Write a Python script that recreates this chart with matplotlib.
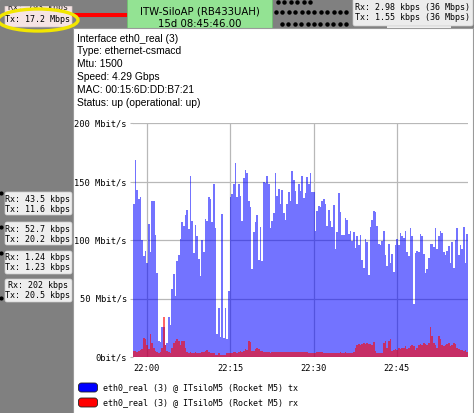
import numpy as np
import matplotlib
matplotlib.use('Agg')
import matplotlib.pyplot as plt
from matplotlib.patches import Rectangle, FancyBboxPatch, Ellipse

# --- data: eth0_real (3) traffic, one sample every 18 s from 21:57:30 ---
START_MIN = -2.5      # minutes relative to 22:00
STEP_MIN = 0.3
tx_mbit = [
    131, 168, 143, 135, 137, 100, 86, 91, 80, 114,
    90, 133, 133, 104, 72, 14, 13, 26, 26, 10,
    12, 34, 27, 58, 71, 52, 82, 87, 101, 115,
    112, 121, 126, 109, 155, 116, 89, 113, 103, 84,
    69, 100, 90, 118, 116, 137, 135, 115, 148, 110,
    20, 42, 17, 122, 16, 42, 15, 56, 137, 139,
    148, 166, 137, 148, 138, 116, 153, 160, 157, 133,
    128, 75, 107, 115, 121, 83, 111, 82, 150, 149,
    155, 148, 110, 116, 123, 157, 138, 144, 131, 143,
    123, 117, 131, 141, 133, 159, 151, 142, 131, 148,
    142, 155, 136, 140, 154, 148, 157, 141, 141, 108,
    125, 129, 128, 133, 135, 131, 112, 126, 116, 111,
    130, 92, 107, 140, 124, 104, 104, 119, 117, 105,
    108, 99, 107, 93, 103, 96, 104, 83, 76, 101,
    98, 70, 111, 117, 125, 124, 112, 97, 96, 99,
    108, 87, 78, 97, 80, 88, 73, 96, 101, 96,
    106, 103, 102, 108, 90, 86, 110, 103, 45, 89,
    91, 90, 105, 103, 88, 72, 75, 85, 97, 97,
    94, 110, 92, 103, 108, 106, 90, 87, 91, 95,
    80, 98, 76, 100, 110, 87, 96, 92, 111, 80,
    105,
]
rx_mbit = [
    5, 5, 4, 5, 6, 7, 16, 15, 10, 7,
    20, 12, 8, 5, 4, 3, 4, 8, 34, 10,
    5, 4, 3, 8, 12, 14, 15, 14, 10, 14,
    14, 8, 4, 3, 4, 3, 3, 4, 3, 3,
    3, 4, 4, 5, 6, 4, 3, 3, 3, 2,
    2, 3, 2, 2, 2, 2, 3, 3, 3, 3,
    4, 4, 3, 4, 5, 4, 5, 7, 6, 14,
    13, 5, 5, 7, 8, 7, 5, 5, 4, 4,
    4, 4, 3, 4, 4, 4, 4, 4, 4, 4,
    4, 4, 4, 4, 4, 4, 4, 4, 4, 4,
    4, 4, 4, 4, 4, 3, 3, 3, 3, 3,
    4, 4, 4, 4, 3, 3, 3, 3, 3, 3,
    3, 3, 3, 3, 4, 3, 3, 4, 3, 3,
    3, 3, 4, 8, 10, 11, 10, 11, 12, 11,
    12, 11, 11, 10, 13, 5, 3, 3, 3, 3,
    12, 14, 8, 14, 15, 5, 6, 7, 6, 8,
    7, 8, 8, 9, 7, 8, 9, 10, 9, 6,
    8, 10, 11, 10, 12, 11, 10, 12, 26, 18,
    12, 10, 8, 18, 15, 10, 9, 10, 11, 12,
    9, 10, 12, 11, 8, 7, 6, 6, 5, 6,
    4,
]
y_ticks = [0, 50, 100, 150, 200]
y_tick_labels = ['0bit/s', '50 Mbit/s', '100 Mbit/s', '150 Mbit/s', '200 Mbit/s']
x_ticks = [0, 15, 30, 45]
x_tick_labels = ['22:00', '22:15', '22:30', '22:45']

tooltip_lines = [
    'Interface eth0_real (3)',
    'Type: ethernet-csmacd',
    'Mtu: 1500',
    'Speed: 4.29 Gbps',
    'MAC: 00:15:6D:DD:B7:21',
    'Status: up (operational: up)',
]
side_labels = [
    ('Rx: 43.5 kbps', 'Tx: 11.6 kbps'),
    ('Rx: 52.7 kbps', 'Tx: 20.2 kbps'),
    ('Rx: 1.24 kbps', 'Tx: 1.23 kbps'),
    ('Rx: 202 kbps', 'Tx: 20.5 kbps'),
]
legend_names = ['eth0_real (3) @ ITsiloM5 (Rocket M5) tx',
                'eth0_real (3) @ ITsiloM5 (Rocket M5) rx']

W, H = 474, 413
MONO = 'DejaVu Sans Mono'
SANS = 'Liberation Sans'

fig = plt.figure(figsize=(W / 100, H / 100), dpi=100)

# --- map background (pixel coordinates) ---
bg = fig.add_axes([0, 0, 1, 1])
bg.set_xlim(0, W)
bg.set_ylim(H, 0)
bg.axis('off')
bg.add_patch(Rectangle((0, 0), W, H, color='#808080', zorder=0))

# link dots
for yy, x0, x1 in [(2, 278, 312), (12, 276, 352), (24, 282, 352)]:
    xs = np.arange(x0, x1, 6.4)
    bg.plot(xs, np.full_like(xs, yy), ls='none', marker='o', ms=2.2, color='black', zorder=1)
for yy in [193, 227, 253, 298]:
    bg.plot([1.5], [yy], ls='none', marker='o', ms=2, color='black', zorder=1)

# red link + highlighted label
bg.plot([72, 128], [15, 15], color='#ff0000', lw=2.9, zorder=1, solid_capstyle='butt')
bg.add_patch(FancyBboxPatch((5, 4), 67, 23, boxstyle='round,pad=0,rounding_size=2',
                            fc='#f6e4e4', ec='#d8c8c8', lw=0.5, zorder=2))
bg.text(38, 8, 'Rx: 793 kbps', family=MONO, fontsize=6, ha='center', va='center', zorder=3,
        color='#222222')
bg.add_patch(Rectangle((4, 0), 70, 5, color='#808080', zorder=3))
bg.text(38, 20, 'Tx: 17.2 Mbps', family=MONO, fontsize=6, ha='center', va='center', zorder=3)
bg.add_patch(Ellipse((38, 20), 80, 22, fill=False, ec='#f2e600', lw=2.4, zorder=4))

# device box
bg.add_patch(Rectangle((127, -1), 145, 30, fc='#93e393', ec='#70c070', lw=0.6, zorder=2))
bg.text(200, 11, 'ITW-SiloAP (RB433UAH)', family='DejaVu Sans', fontsize=7.3,
        ha='center', va='center', zorder=3)
bg.text(200, 24, '15d 08:45:46.00', family='DejaVu Sans', fontsize=7.3,
        ha='center', va='center', zorder=3)

# top-right link label
bg.add_patch(Rectangle((387, 20), 64, 9, fc='#f4f4f4', ec='none', zorder=2))
bg.add_patch(FancyBboxPatch((353, -3), 120, 29, boxstyle='round,pad=0,rounding_size=2',
                            fc='#ececec', ec='#c8c8c8', lw=0.5, zorder=2))
bg.text(413, 7, 'Rx: 2.98 kbps (36 Mbps)', family=MONO, fontsize=6, ha='center', va='center', zorder=3)
bg.text(413, 17, 'Tx: 1.55 kbps (36 Mbps)', family=MONO, fontsize=6, ha='center', va='center', zorder=3)

# left link labels
for k, (rx_txt, tx_txt) in enumerate(side_labels):
    top = [192, 222, 251, 279][k]
    bg.add_patch(FancyBboxPatch((5, top), 67, 23, boxstyle='round,pad=0,rounding_size=2',
                                fc='#eeeeee', ec='#cccccc', lw=0.5, zorder=2))
    bg.text(38, top + 7, rx_txt, family=MONO, fontsize=6, ha='center', va='center', zorder=3)
    bg.text(38, top + 17, tx_txt, family=MONO, fontsize=6, ha='center', va='center', zorder=3)

# tooltip
bg.add_patch(Rectangle((73, 28), 400, 390, fc='white', ec='#9a9a9a', lw=0.8, zorder=5))
for k, line in enumerate(tooltip_lines):
    bg.text(77, 38.5 + k * 12.8, line, family=SANS, fontsize=7.4, ha='left', va='center',
            zorder=6)

# legend swatches
for k, (name, col) in enumerate(zip(legend_names, ['#0000ff', '#ff0000'])):
    yy = 383 + k * 15
    bg.add_patch(FancyBboxPatch((78.5, yy), 19, 9, boxstyle='round,pad=0,rounding_size=3',
                                fc=col, ec='#202020', lw=0.6, zorder=6))
    bg.text(103, yy + 4.5, name, family=MONO, fontsize=6, ha='left', va='center', zorder=6)

# --- traffic graph ---
ax = fig.add_axes([133 / W, 1 - 357 / H, (468 - 133) / W, (357 - 123) / H], zorder=10)
ax.patch.set_alpha(0)
t = START_MIN + STEP_MIN * (np.arange(len(tx_mbit)) + 0.5)
ax.bar(t, tx_mbit, width=STEP_MIN * 0.86, color='#0000ff', alpha=0.55, lw=0)
ax.bar(t, rx_mbit, width=STEP_MIN * 0.86, color='#ff0000', alpha=0.6, lw=0)

ax.set_xlim(START_MIN, START_MIN + STEP_MIN * len(tx_mbit))
ax.set_ylim(0, 200)
ax.set_yticks(y_ticks, y_tick_labels)
ax.set_xticks(x_ticks, x_tick_labels)
ax.set_axisbelow(True)
ax.grid(True, color='#b8b8b8', lw=0.9)
for s in ax.spines.values():
    s.set_visible(False)
ax.tick_params(axis='y', length=2, color='#b8b8b8', pad=2.5, labelsize=6.3)
ax.tick_params(axis='x', length=0, pad=5, labelsize=6.3)
for lab in ax.get_xticklabels() + ax.get_yticklabels():
    lab.set_family(MONO)

fig.savefig('out.png', dpi=100)
